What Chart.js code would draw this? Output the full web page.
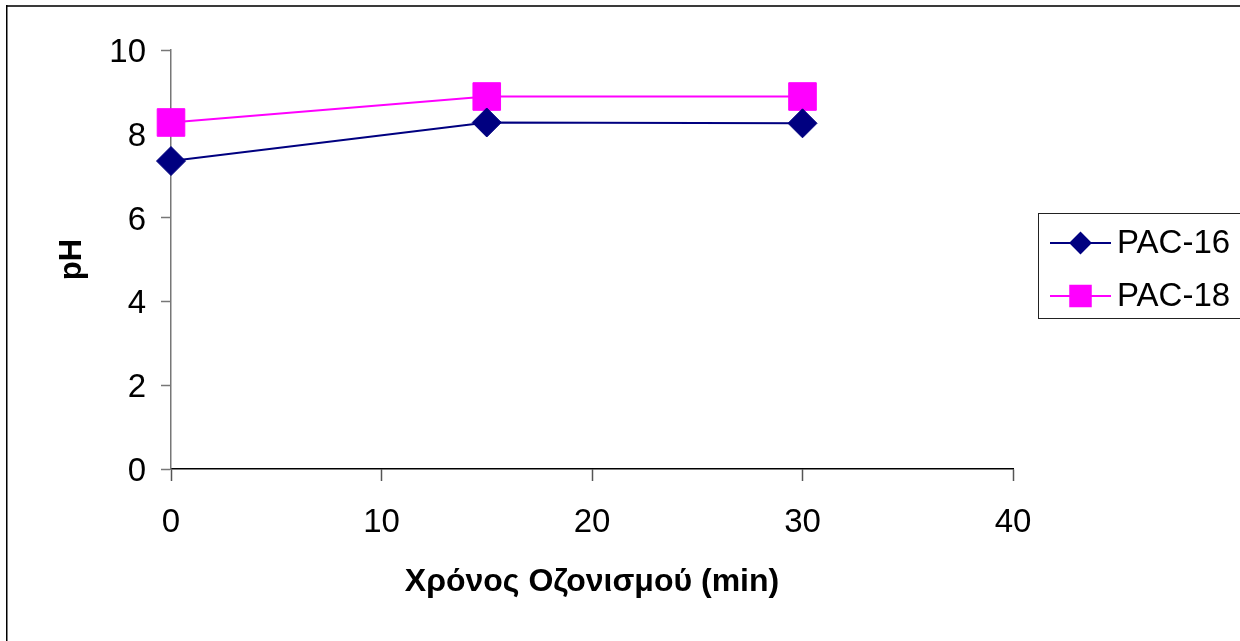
<!DOCTYPE html>
<html>
<head>
<meta charset="utf-8">
<script src="https://cdn.jsdelivr.net/npm/chart.js@4/dist/chart.umd.min.js"></script>
<style>
  html, body { margin: 0; padding: 0; background: #fff; }
  #wrap { width: 1240px; height: 641px; }
</style>
</head>
<body>
<div id="wrap"><canvas id="c" width="1240" height="641"></canvas></div>
<script>
// Ozonation time (min) and measured pH per carbon sample
const times = [0, 15, 30];
const pac16 = [7.35, 8.27, 8.25];
const pac18 = [8.27, 8.89, 8.89];
const seriesNames = ['PAC-16', 'PAC-18'];
const xTicks = [0, 10, 20, 30, 40];
const yTicks = [0, 2, 4, 6, 8, 10];

const FONT = "'Liberation Sans', Arial, sans-serif";

function pts(values) {
  return times.map((t, i) => ({ x: t, y: values[i] }));
}

// Outer frame line along the top and left edges
const framePlugin = {
  id: 'frame',
  beforeDraw(chart) {
    const ctx = chart.ctx;
    ctx.save();
    ctx.fillStyle = '#fff';
    ctx.fillRect(0, 0, chart.width, chart.height);
    ctx.fillStyle = '#3a3a3a';
    ctx.fillRect(6, 5, chart.width - 6, 2);
    ctx.fillStyle = '#000';
    ctx.fillRect(6, 5, 1.5, chart.height - 5);
    ctx.restore();
  }
};

// Boxed legend at the right, built from the dataset styles
const boxLegend = {
  id: 'boxLegend',
  afterDraw(chart) {
    const ctx = chart.ctx;
    const box = { x: 1038.5, y: 213.5, w: 260, h: 105 };
    ctx.save();
    ctx.strokeStyle = '#222';
    ctx.lineWidth = 1;
    ctx.strokeRect(box.x, box.y, box.w, box.h);
    const rows = [243, 296];
    const sizes = [10, 14.5];
    chart.data.datasets.forEach((ds, i) => {
      const y = rows[i];
      ctx.strokeStyle = ds.borderColor;
      ctx.lineWidth = 2;
      ctx.beginPath();
      ctx.moveTo(1050, y);
      ctx.lineTo(1111, y);
      ctx.stroke();
      ctx.fillStyle = ds.pointBackgroundColor;
      ctx.strokeStyle = ds.pointBorderColor;
      Chart.helpers.drawPoint(ctx, {
        pointStyle: ds.pointStyle, radius: sizes[i], rotation: 0, borderWidth: 1
      }, 1080.5, y);
      ctx.fillStyle = '#000';
      ctx.font = '33px ' + FONT;
      ctx.textBaseline = 'middle';
      ctx.textAlign = 'left';
      ctx.fillText(ds.label, 1117, y + 1);
    });
    ctx.restore();
  }
};

new Chart(document.getElementById('c'), {
  type: 'line',
  data: {
    datasets: [
      {
        label: seriesNames[0],
        data: pts(pac16),
        borderColor: '#000080',
        backgroundColor: '#000080',
        pointBackgroundColor: '#000080',
        pointBorderColor: '#000080',
        borderWidth: 2,
        pointStyle: 'rectRot',
        pointRadius: 14.5,
        pointBorderWidth: 1,
        tension: 0,
        clip: false
      },
      {
        label: seriesNames[1],
        data: pts(pac18),
        borderColor: '#FF00FF',
        backgroundColor: '#FF00FF',
        pointBackgroundColor: '#FF00FF',
        pointBorderColor: '#FF00FF',
        borderWidth: 2,
        pointStyle: 'rect',
        pointRadius: 19.5,
        pointBorderWidth: 1,
        tension: 0,
        clip: false
      }
    ]
  },
  options: {
    responsive: false,
    animation: false,
    events: [],
    layout: { padding: { left: 0, top: 50, right: 227, bottom: 0 } },
    plugins: {
      legend: { display: false },
      tooltip: { enabled: false }
    },
    scales: {
      x: {
        type: 'linear',
        min: 0,
        max: 40,
        afterFit(s) { s.height = 172; },
        afterBuildTicks(s) { s.ticks = xTicks.map(v => ({ value: v })); },
        border: { display: true, color: '#000', width: 1.5 },
        grid: {
          display: true, drawOnChartArea: false, drawTicks: true,
          tickLength: 12, tickColor: '#555', tickWidth: 1.5
        },
        ticks: {
          color: '#000', padding: 22,
          font: { family: FONT, size: 33 },
          maxRotation: 0
        },
        title: {
          display: true,
          text: 'Χρόνος Οζονισμού (min)',
          color: '#000',
          font: { family: FONT, size: 32, weight: 'bold' },
          padding: { top: 0, bottom: 40 }
        }
      },
      y: {
        type: 'linear',
        min: 0,
        max: 10,
        afterFit(s) { s.width = 171; },
        afterBuildTicks(s) { s.ticks = yTicks.map(v => ({ value: v })); },
        border: { display: true, color: '#777', width: 1.5 },
        grid: {
          display: true, drawOnChartArea: false, drawTicks: true,
          tickLength: 10, tickColor: '#777', tickWidth: 1.5
        },
        ticks: {
          color: '#000', padding: 15, labelOffset: 3,
          font: { family: FONT, size: 33 }
        },
        title: {
          display: true,
          text: 'pH',
          color: '#000',
          font: { family: FONT, size: 31, weight: 'bold' },
          padding: { top: 54, bottom: 0 }
        }
      }
    }
  },
  plugins: [framePlugin, boxLegend]
});
</script>
</body>
</html>
